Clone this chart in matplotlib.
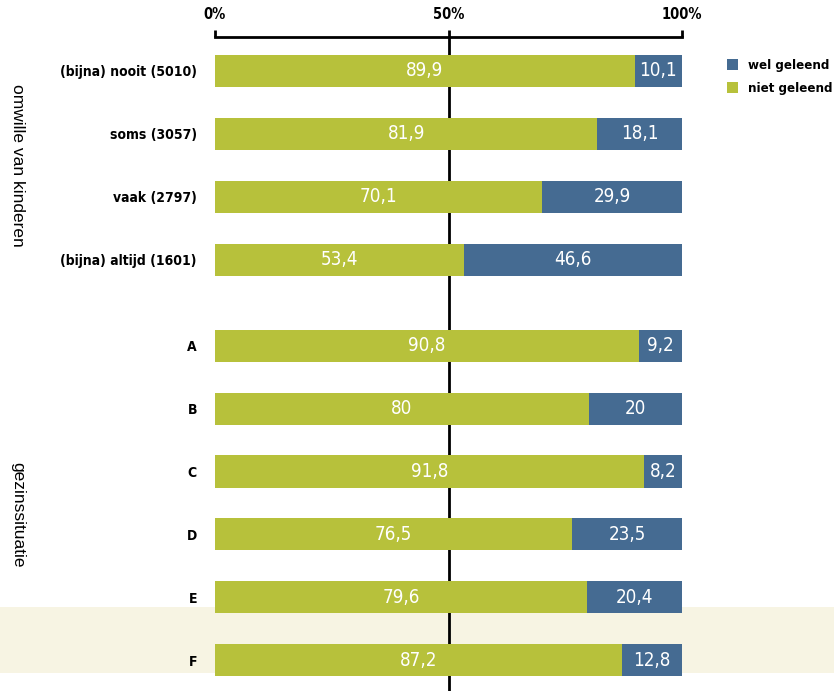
import numpy as np
import matplotlib
matplotlib.use('Agg')
import matplotlib.pyplot as plt
import matplotlib.transforms as mtransforms
from matplotlib.patches import Rectangle

# Data
labels_kind = ['(bijna) nooit (5010)', 'soms (3057)', 'vaak (2797)', '(bijna) altijd (1601)']
labels_gezin = ['A', 'B', 'C', 'D', 'E', 'F']
niet_kind = [89.9, 81.9, 70.1, 53.4]
wel_kind = [10.1, 18.1, 29.9, 46.6]
niet_gezin = [90.8, 80, 91.8, 76.5, 79.6, 87.2]
wel_gezin = [9.2, 20, 8.2, 23.5, 20.4, 12.8]

green = '#b7c13b'
blue = '#456b92'
plt.rcParams['font.family'] = ['DejaVu Sans']
plt.rcParams['font.stretch'] = 'condensed'

labels = labels_kind + labels_gezin
niet = niet_kind + niet_gezin
wel = wel_kind + wel_gezin
gap = 0.37
ypos = list(np.arange(len(labels_kind))) + list(np.arange(len(labels_gezin)) + len(labels_kind) + gap)

fig = plt.figure(figsize=(8.34, 6.91), dpi=100)
ax = fig.add_axes([215 / 834, 0, 467 / 834, 1 - 37 / 691])
ax.set_facecolor('none')

# beige band across the whole figure behind the last row
blend = mtransforms.blended_transform_factory(fig.transFigure, ax.transData)
ax.add_patch(Rectangle((0, 8.52), 1, 1.05, transform=blend, color='#f7f4e3',
                       clip_on=False, zorder=0, lw=0))

ax.axvline(50, color='black', lw=2, zorder=1)

h = 0.51
ax.barh(ypos, niet, height=h, color=green, zorder=2, label='niet geleend')
ax.barh(ypos, wel, left=niet, height=h, color=blue, zorder=2, label='wel geleend')

def fmt(v):
    return ('%g' % v).replace('.', ',')

for y, n, w in zip(ypos, niet, wel):
    ax.text(n / 2, y, fmt(n), ha='center', va='center', color='white', fontsize=13.5, zorder=3)
    ax.text(n + w / 2, y, fmt(w), ha='center', va='center', color='white', fontsize=13.5, zorder=3)

ax.set_xlim(0, 100)
ax.set_ylim(9.86, -0.54)
ax.set_yticks(ypos)
ax.set_yticklabels(labels, fontsize=10, fontweight='bold')
ax.tick_params(axis='y', length=0, pad=13)
ax.xaxis.tick_top()
ax.set_xticks([0, 50, 100])
ax.set_xticklabels(['0%', '50%', '100%'], fontsize=10.5, fontweight='bold')
ax.tick_params(axis='x', direction='out', length=5, width=2, pad=6)
for s in ['left', 'right', 'bottom']:
    ax.spines[s].set_visible(False)
ax.spines['top'].set_linewidth(2)

# group labels
ax.text(0.021, 1.5, 'omwille van kinderen', transform=blend, rotation=270,
        ha='center', va='center', fontsize=12.5, family=['Liberation Sans', 'DejaVu Sans'])
ax.text(0.021, 7.05, 'gezinssituatie', transform=blend, rotation=270,
        ha='center', va='center', fontsize=12.5, family=['Liberation Sans', 'DejaVu Sans'])

handles, lbls = ax.get_legend_handles_labels()
fig.legend(handles[::-1], lbls[::-1], loc='upper left', bbox_to_anchor=(0.857, 0.932),
           frameon=False, handlelength=0.9, handleheight=0.9,
           handletextpad=0.7, labelspacing=0.75, prop={'weight': 'bold', 'size': 9.5})

fig.savefig('out.png', dpi=100)
